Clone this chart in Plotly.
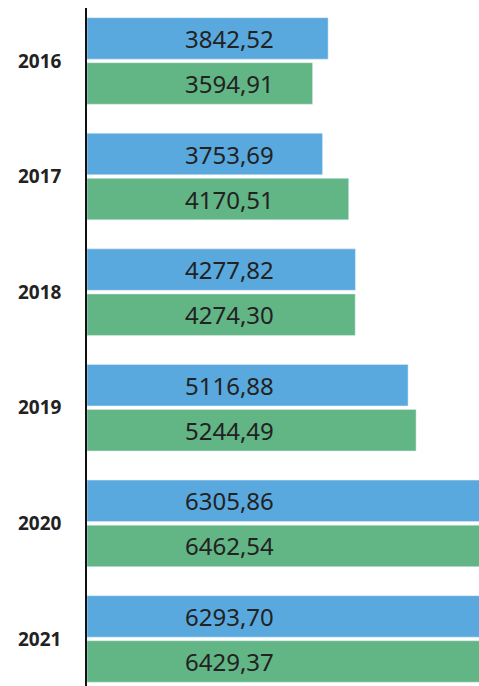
import plotly.graph_objects as go

years = ["2016", "2017", "2018", "2019", "2020", "2021"]
series_a = [3842.52, 3753.69, 4277.82, 5116.88, 6305.86, 6293.70]
series_b = [3594.91, 4170.51, 4274.30, 5244.49, 6462.54, 6429.37]
color_a = "#59A9DE"
color_b = "#62B584"

def fmt(v):
    return f"{v:.2f}".replace(".", ",")

fig = go.Figure()
fig.add_trace(go.Bar(y=years, x=series_a, orientation="h", marker_color=color_a, showlegend=False))
fig.add_trace(go.Bar(y=years, x=series_b, orientation="h", marker_color=color_b, showlegend=False))

label_x = 1524
off = 0.195
for i, (a, b) in enumerate(zip(series_a, series_b)):
    fig.add_annotation(x=label_x, y=i - off, xref="x", yref="y", text=fmt(a), showarrow=False,
                       xanchor="left", yanchor="middle", font=dict(size=24, color="#222222", family="Noto Sans"))
    fig.add_annotation(x=label_x, y=i + off, xref="x", yref="y", text=fmt(b), showarrow=False,
                       xanchor="left", yanchor="middle", font=dict(size=24, color="#222222", family="Noto Sans"))

fig.update_layout(
    width=479, height=686,
    margin=dict(l=87, r=0, t=8, b=0),
    barmode="group", bargap=0.22, bargroupgap=0.08,
    plot_bgcolor="white", paper_bgcolor="white",
    xaxis=dict(range=[0, 6247], showgrid=False, zeroline=False, showticklabels=False, showline=False),
    yaxis=dict(type="category", categoryorder="array", categoryarray=years,
               range=[5.407, -0.458], showgrid=False, zeroline=False,
               showline=True, linecolor="#111111", linewidth=1.5,
               ticklabelstandoff=20,
               tickfont=dict(size=19, color="#222222", family="Noto Sans", weight="bold")),
)
fig.write_html("out.html", config={"displayModeBar": False},
               post_script="document.body.style.margin='0';document.body.style.overflow='hidden';")
